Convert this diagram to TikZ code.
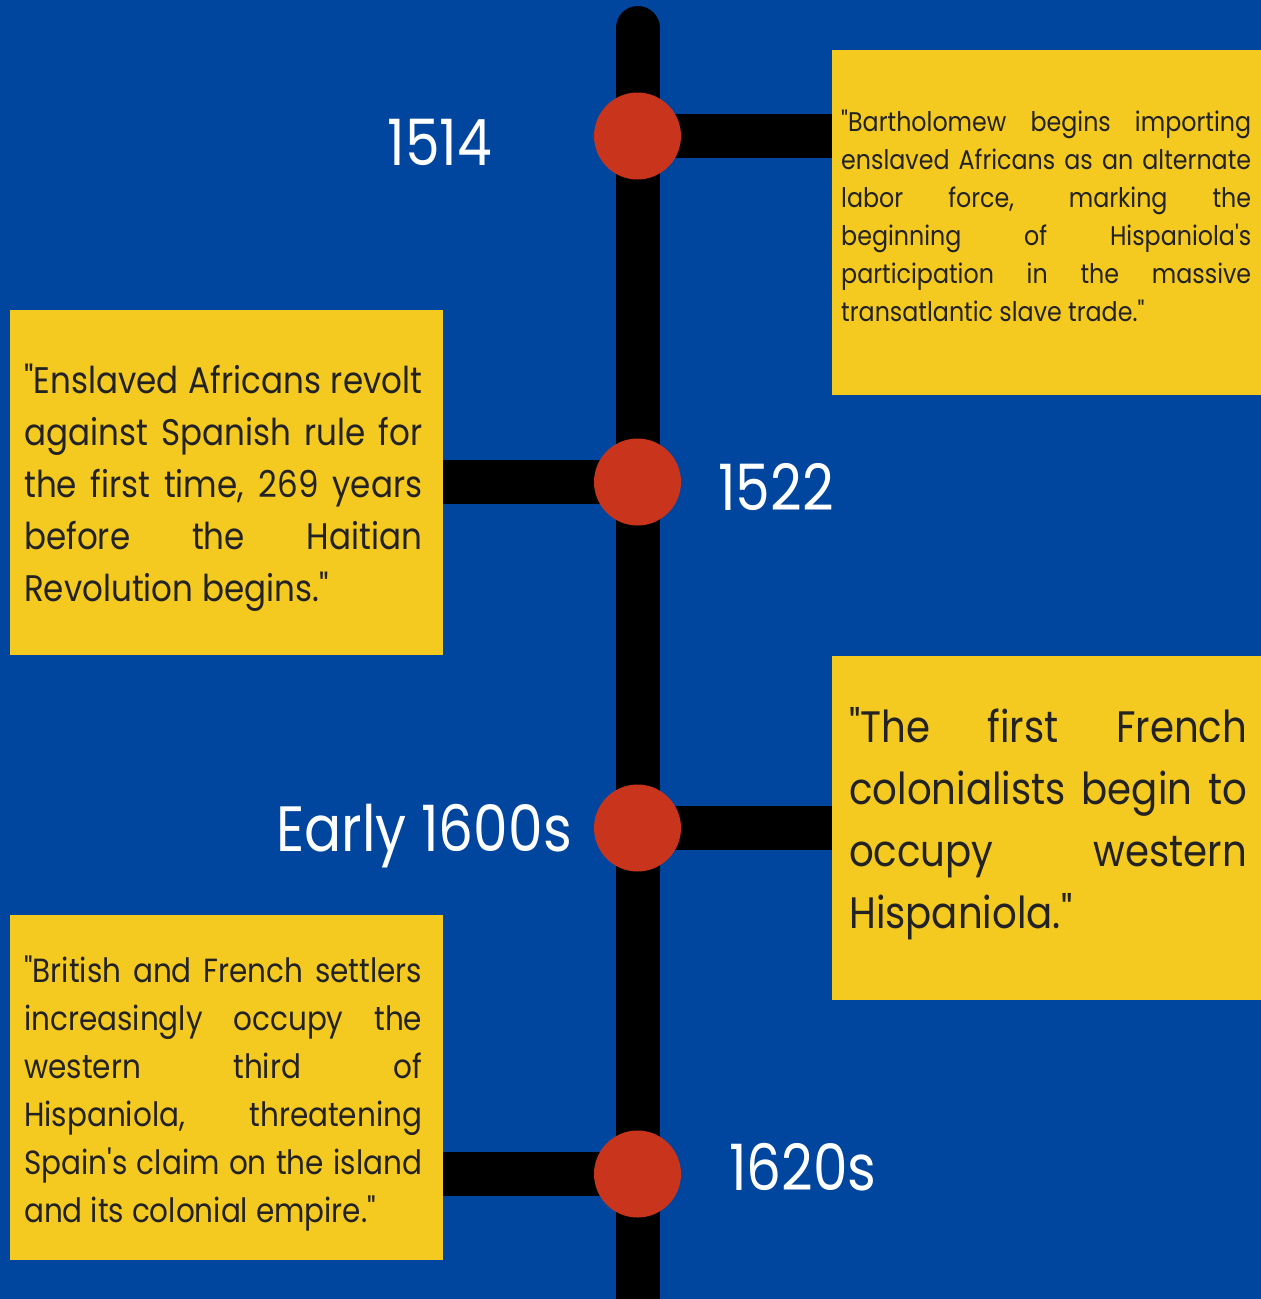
\documentclass[tikz,border=0pt]{standalone}
\usepackage{fontspec}
\newfontfamily\tlfont[FakeStretch=0.88,Ligatures=TeXOff]{Poppins}
\newfontfamily\yrfont[FakeStretch=0.86,Ligatures=TeXOff]{Poppins}
\definecolor{bgblue}{RGB}{0,69,158}
\definecolor{dotred}{RGB}{200,52,28}
\definecolor{boxyellow}{RGB}{244,201,32}
\definecolor{inkdark}{RGB}{34,34,34}
% justified line and final (ragged) line inside a \vtop
\newcommand\justline[1]{\hbox to \hsize{#1}}
\newcommand\lastline[1]{\hbox to \hsize{#1\hfil}}
\newcommand\cardpara[3]{\vtop{\hsize=#1\baselineskip=#2\lineskiplimit=-100pt\relax #3}}
\begin{document}
\begin{tikzpicture}[x=1pt,y=-1pt,
  bar/.style={line width=44pt,black},
  spine/.style={line width=44pt,black,line cap=round},
  dot/.style={circle,fill=dotred,minimum size=87pt,inner sep=0pt},
  card/.style={fill=boxyellow,inner sep=0pt,anchor=north west},
  cardtext/.style={inner sep=0pt,anchor=base west,text=inkdark,font=\tlfont},
  year/.style={inner sep=0pt,text=white,font=\yrfont\fontsize{64}{70}\selectfont}]
\useasboundingbox (0,0) rectangle (1261,1299);
\clip (0,0) rectangle (1261,1299);
\fill[bgblue] (0,0) rectangle (1261,1299);

% yellow cards
\node[card,minimum width=429pt,minimum height=345pt] (b1) at (832,50) {};
\node[card,minimum width=433pt,minimum height=345pt] (b2) at (10,310) {};
\node[card,minimum width=429pt,minimum height=344pt] (b3) at (832,656) {};
\node[card,minimum width=433pt,minimum height=345pt] (b4) at (10,915) {};

% positions of the timeline markers
\coordinate (c1) at (637.5,136);
\coordinate (c2) at (637.5,482);
\coordinate (c3) at (637.5,828);
\coordinate (c4) at (637.5,1174);

% spine and branches
\coordinate (top) at (637.5,28);
\coordinate (foot) at (637.5,1330);
\draw[bar] (c1) -- (c1 -| b1.west);
\draw[bar] (c2) -- (c2 -| b2.east);
\draw[bar] (c3) -- (c3 -| b3.west);
\draw[bar] (c4) -- (c4 -| b4.east);
\draw[spine] (top) -- (foot);
\node[dot] (d1) at (c1) {};
\node[dot] (d2) at (c2) {};
\node[dot] (d3) at (c3) {};
\node[dot] (d4) at (c4) {};

% years
\node[year,anchor=base] (y1) at (440,165) {1514};
\node[year,anchor=base west] (y2) at (718,510) {1522};
\node[year,anchor=base east] (y3) at (572,851) {Early 1600s};
\node[year,anchor=base west] (y4) at (729,1190) {1620s};

% card texts
\node[cardtext] (t1) at (841,131) {\fontsize{27}{38}\selectfont\cardpara{410pt}{38pt}{%
  \justline{"Bartholomew begins importing}
  \justline{enslaved Africans as an alternate}
  \justline{labor force, marking the}
  \justline{beginning of Hispaniola's}
  \justline{participation in the massive}
  \lastline{transatlantic slave trade."}}};
\node[cardtext] (t2) at (24,393) {\fontsize{37}{52}\selectfont\cardpara{398pt}{52pt}{%
  \justline{"Enslaved Africans revolt}
  \justline{against Spanish rule for}
  \justline{the first time, 269 years}
  \justline{before the Haitian}
  \lastline{Revolution begins."}}};
\node[cardtext] (t3) at (849,742) {\fontsize{44}{62}\selectfont\cardpara{398pt}{62pt}{%
  \justline{"The first French}
  \justline{colonialists begin to}
  \justline{occupy western}
  \lastline{Hispaniola."}}};
\node[cardtext] (t4) at (24,982) {\fontsize{33.5}{48}\selectfont\cardpara{398pt}{48pt}{%
  \justline{"British and French settlers}
  \justline{increasingly occupy the}
  \justline{western third of}
  \justline{Hispaniola, threatening}
  \justline{Spain's claim on the island}
  \lastline{and its colonial empire."}}};
\end{tikzpicture}
\end{document}
